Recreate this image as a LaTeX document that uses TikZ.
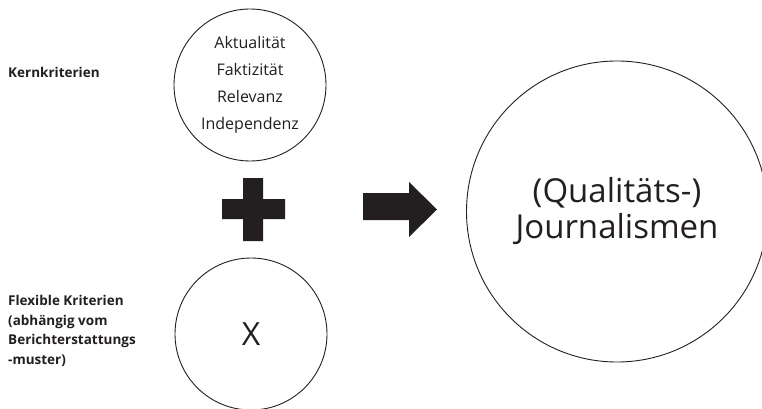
\documentclass[tikz,border=0pt]{standalone}
\usepackage{fontspec}
\setmainfont{Open Sans}[Ligatures=NoCommon]
\definecolor{ink}{HTML}{231F20}
\begin{document}
\begin{tikzpicture}[x=1pt,y=-1pt,
  ring/.style={circle,draw=ink,line width=0.9pt,inner sep=0pt,text=ink},
  side/.style={anchor=west,align=left,text=ink,inner sep=0pt,font=\fontsize{13.5}{19.5}\selectfont\bfseries},
  bigtext/.style={anchor=base,inner sep=0pt,text=ink,font=\fontsize{33}{36}\selectfont},
  solid shape/.style={fill=ink,draw=none}]
\useasboundingbox (0,0) rectangle (762,409);
\fill[white] (0,0) rectangle (762,409);
% circles
\node[ring,minimum size=152pt,align=center,font=\fontsize{16}{27}\selectfont] (kern) at (250,85)
  {Aktualität\\Faktizität\\Relevanz\\Independenz};
\node[ring,minimum size=152pt,font=\fontsize{32}{36}\selectfont] (flex) at (251,334) {X};
\node[ring,minimum size=301pt] (journ) at (617,211.5) {};
\node[bigtext] (q) at (617,202) {(Qualitäts-)};
\node[bigtext] (j) at (617,238) {Journalismen};
% side labels
\node[side] (kl) at (8,72) {Kernkriterien};
\node[side] (fl) at (8,331) {Flexible Kriterien\\(abhängig vom\\Berichterstattungs\\-muster)};
% plus sign
\path[solid shape] (243,178) -- (263,178) -- (263,199) -- (285,199) -- (285,219) -- (263,219)
  -- (263,241) -- (243,241) -- (243,219) -- (222,219) -- (222,199) -- (243,199) -- cycle;
% arrow
\path[solid shape] (363,193) -- (409,193) -- (409,182) -- (437,209.5) -- (409,237) -- (409,220)
  -- (363,220) -- cycle;
\end{tikzpicture}
\end{document}
